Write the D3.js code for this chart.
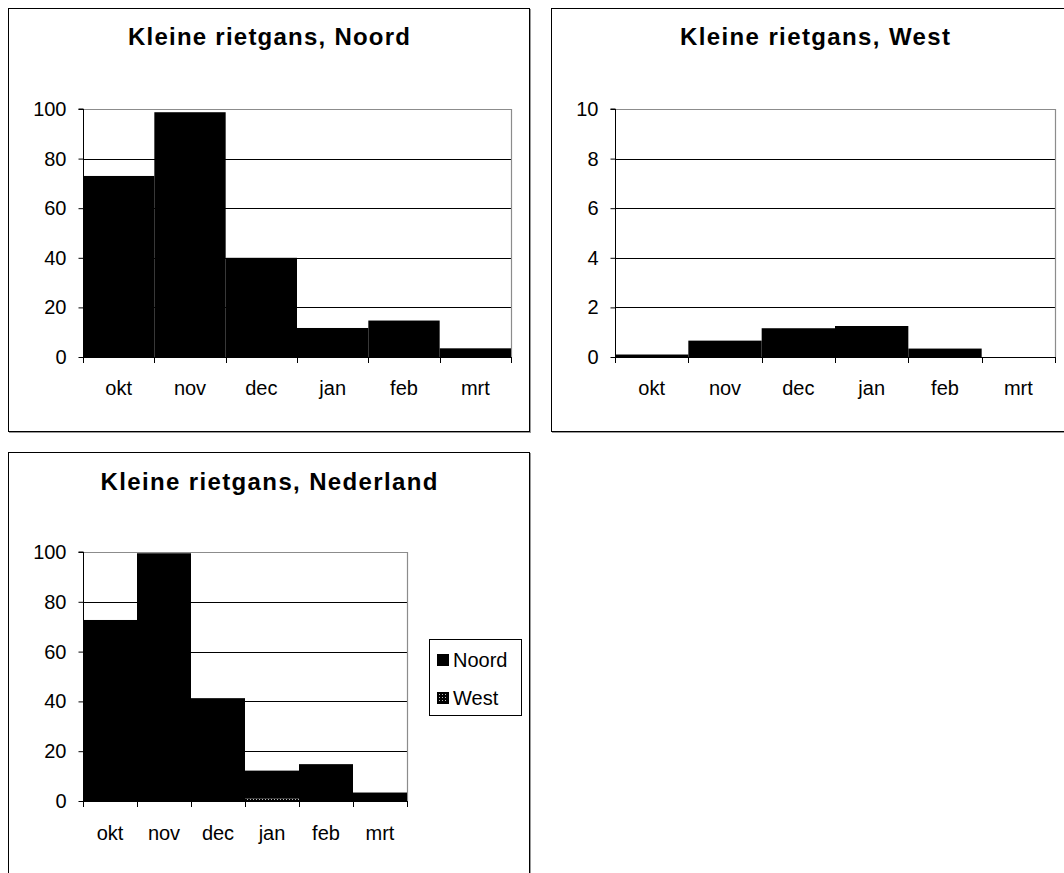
<!DOCTYPE html>
<html>
<head>
<meta charset="utf-8">
<script src="https://cdn.jsdelivr.net/npm/d3@7"></script>
<style>
  html, body { margin: 0; padding: 0; background: #fff; }
  svg { display: block; }
  text { font-family: "Liberation Sans", Arial, sans-serif; fill: #000; }
</style>
</head>
<body>
<svg id="chart" width="1064" height="873"></svg>
<script>
// ---- data ----
const months = ["okt", "nov", "dec", "jan", "feb", "mrt"];
const noordValues = [73, 98.7, 40, 11.7, 14.7, 3.5];
const westValues = [0.1, 0.66, 1.16, 1.25, 0.34, 0];
const nlNoordValues = [72.7, 99.5, 41.3, 11.2, 14.8, 3.4];
const nlWestValues = [0, 0, 0, 1.0, 0, 0];
const ticksNoord = [0, 20, 40, 60, 80, 100];
const ticksWest = [0, 2, 4, 6, 8, 10];
const titles = ["Kleine rietgans, Noord", "Kleine rietgans, West", "Kleine rietgans, Nederland"];
const legendLabels = ["Noord", "West"];

const svg = d3.select("#chart");

// pattern for West series
const defs = svg.append("defs");
const pat = defs.append("pattern").attr("id", "westPat")
  .attr("patternUnits", "userSpaceOnUse").attr("width", 3).attr("height", 3);
pat.append("rect").attr("width", 3).attr("height", 3).attr("fill", "#000");
pat.append("rect").attr("x", 1).attr("y", 1).attr("width", 1).attr("height", 1).attr("fill", "#bbb");

function frame(x0, y0, x1, y1) {
  svg.append("rect").attr("x", x0 + 1.5).attr("y", y0 + 1.5)
    .attr("width", x1 - x0).attr("height", y1 - y0)
    .attr("fill", "none").attr("stroke", "#999").attr("stroke-width", 1);
  svg.append("rect").attr("x", x0 + 0.5).attr("y", y0 + 0.5)
    .attr("width", x1 - x0).attr("height", y1 - y0)
    .attr("fill", "#fff").attr("stroke", "#000").attr("stroke-width", 1);
}

function chart(opts) {
  const { left, right, top, bottom, max, ticks, series, title, titleX, titleY, titleW, labelY } = opts;
  const x = d3.scaleBand().domain(months).range([left, right]).padding(0);
  const y = d3.scaleLinear().domain([0, max]).range([bottom, top]);
  const g = svg.append("g");

  // gridlines
  g.selectAll("line.grid").data(ticks.filter(t => t > 0 && t < max)).join("line")
    .attr("x1", left).attr("x2", right)
    .attr("y1", d => Math.round(y(d)) + 0.5).attr("y2", d => Math.round(y(d)) + 0.5)
    .attr("stroke", "#000").attr("stroke-width", 1);

  // plot border top/right (gray)
  g.append("path")
    .attr("d", `M${left},${top + 0.5}H${right + 0.5}V${bottom}`)
    .attr("fill", "none").attr("stroke", "#8c8c8c").attr("stroke-width", 1.2);

  // bars (stacked)
  const stack = d3.stack().keys(series.map((s, i) => i))(
    months.map((m, j) => { const o = { m }; series.forEach((s, i) => o[i] = s.values[j]); return o; })
  );
  stack.forEach((layer, i) => {
    g.selectAll(null).data(layer).join("rect")
      .attr("x", d => x(d.data.m))
      .attr("width", x.bandwidth())
      .attr("y", d => y(d[1]))
      .attr("height", d => Math.max(0, y(d[0]) - y(d[1])))
      .attr("fill", series[i].fill);
  });

  // y axis
  const ya = d3.axisLeft(y).tickValues(ticks).tickSize(5).tickPadding(12).tickFormat(d3.format("d"));
  const yg = g.append("g").attr("transform", `translate(${left + 0.5},0)`).call(ya);
  yg.select(".domain").attr("stroke", "#000").attr("d", `M-5,${top}H0V${bottom}`);
  yg.selectAll(".tick line").attr("stroke", "#000");
  yg.selectAll("text").style("font-size", "20px").attr("fill", "#000");

  // x axis line and boundary ticks
  g.append("line").attr("x1", left).attr("x2", right + 1)
    .attr("y1", bottom + 0.5).attr("y2", bottom + 0.5).attr("stroke", "#000");
  const bounds = months.map(m => x(m)).concat([x(months[months.length - 1]) + x.bandwidth()]);
  g.selectAll(null).data(bounds).join("line")
    .attr("x1", d => Math.round(d) + 0.5).attr("x2", d => Math.round(d) + 0.5)
    .attr("y1", bottom).attr("y2", bottom + 6).attr("stroke", "#000");
  g.selectAll(null).data(months).join("text")
    .attr("x", d => x(d) + x.bandwidth() / 2).attr("y", labelY)
    .attr("text-anchor", "middle").style("font-size", "20px").text(d => d);

  // title
  svg.append("text").attr("x", titleX).attr("y", titleY)
    .attr("text-anchor", "middle").style("font-size", "24px").style("font-weight", "bold")
    .attr("textLength", titleW).attr("lengthAdjust", "spacing")
    .text(title);
}

// Chart 1: Noord
frame(8, 8, 529, 431);
chart({ left: 83, right: 511, top: 109, bottom: 357, max: 100, ticks: ticksNoord,
  series: [{ values: noordValues, fill: "#000" }],
  title: titles[0], titleX: 269, titleY: 45, titleW: 282, labelY: 395 });

// Chart 2: West
frame(551, 8, 1080, 431);
chart({ left: 615, right: 1055, top: 109, bottom: 357, max: 10, ticks: ticksWest,
  series: [{ values: westValues, fill: "#000" }],
  title: titles[1], titleX: 815, titleY: 45, titleW: 270, labelY: 395 });

// Chart 3: Nederland (stacked: West at bottom, Noord on top)
frame(8, 452, 529, 900);
chart({ left: 83, right: 407, top: 552, bottom: 801, max: 100, ticks: ticksNoord,
  series: [{ values: nlWestValues, fill: "url(#westPat)" }, { values: nlNoordValues, fill: "#000" }],
  title: titles[2], titleX: 269, titleY: 490, titleW: 337, labelY: 840 });

// legend
const lg = svg.append("g");
lg.append("rect").attr("x", 429.5).attr("y", 639.5).attr("width", 92).attr("height", 76)
  .attr("fill", "#fff").attr("stroke", "#000");
const legFills = ["#000", "url(#westPat)"];
lg.selectAll(null).data(legendLabels).join("rect")
  .attr("x", 437.5).attr("y", (d, i) => 654.5 + i * 38).attr("width", 11).attr("height", 11)
  .attr("fill", (d, i) => legFills[i]).attr("stroke", "#000");
lg.selectAll(null).data(legendLabels).join("text")
  .attr("x", 453).attr("y", (d, i) => 667 + i * 38)
  .style("font-size", "20px").text(d => d);
</script>
</body>
</html>
